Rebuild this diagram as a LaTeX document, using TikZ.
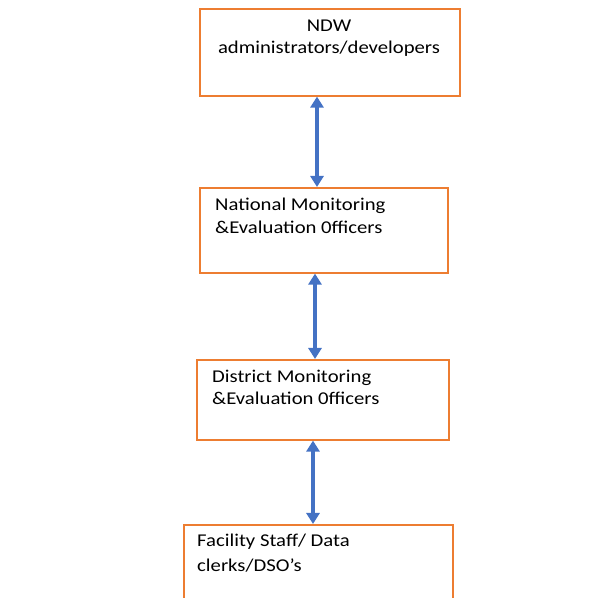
\documentclass[tikz,border=0pt]{standalone}
\usepackage{fontspec}
\setmainfont[FakeStretch=1.15]{Carlito}
\usetikzlibrary{arrows.meta}
\definecolor{boxorange}{HTML}{ED7D31}
\definecolor{arrowblue}{HTML}{4472C4}
\begin{document}
\begin{tikzpicture}[x=1pt,y=1pt,
  box/.style={draw=boxorange, line width=1.6pt, fill=white, rectangle,
              anchor=north west, inner sep=0pt},
  lbl/.style={inner sep=0pt, font=\fontsize{18}{21}\selectfont, text=black},
  link/.style={draw=arrowblue, line width=3.2pt,
               {Triangle[width=13pt,length=11pt]}-{Triangle[width=13pt,length=11pt]}}]
  \useasboundingbox (0,0) rectangle (597,598);
  \clip (0,0) rectangle (597,598);

  % tiers of the reporting chain
  \node[box, minimum width=260pt, minimum height=87pt] (b1) at (199,590) {};
  \node[box, minimum width=248pt, minimum height=85pt] (b2) at (199,411) {};
  \node[box, minimum width=252pt, minimum height=80pt] (b3) at (196,239) {};
  \node[box, minimum width=269pt, minimum height=110pt] (b4) at (183,74) {};

  % labels
  \node[lbl, anchor=base] (t1a) at (329,566.5) {NDW};
  \node[lbl, anchor=base] (t1b) at (329,544.5) {administrators/developers};
  \node[lbl, anchor=base west] (t2a) at (215,387.5) {National Monitoring};
  \node[lbl, anchor=base west] (t2b) at (215,364.5) {\&Evaluation 0fficers};
  \node[lbl, anchor=base west] (t3a) at (212,215) {District Monitoring};
  \node[lbl, anchor=base west] (t3b) at (212,193) {\&Evaluation 0fficers};
  \node[lbl, anchor=base west] (t4a) at (197,51) {Facility Staff/ Data};
  \node[lbl, anchor=base west] (t4b) at (197,27) {clerks/DSO’s};

  % two-way links between tiers
  \coordinate (x1) at (317,0);
  \coordinate (x2) at (315,0);
  \coordinate (x3) at (313,0);
  \draw[link] (b1.south -| x1) -- (b2.north -| x1);
  \draw[link] (b2.south -| x2) -- (b3.north -| x2);
  \draw[link] (b3.south -| x3) -- (b4.north -| x3);
\end{tikzpicture}
\end{document}
